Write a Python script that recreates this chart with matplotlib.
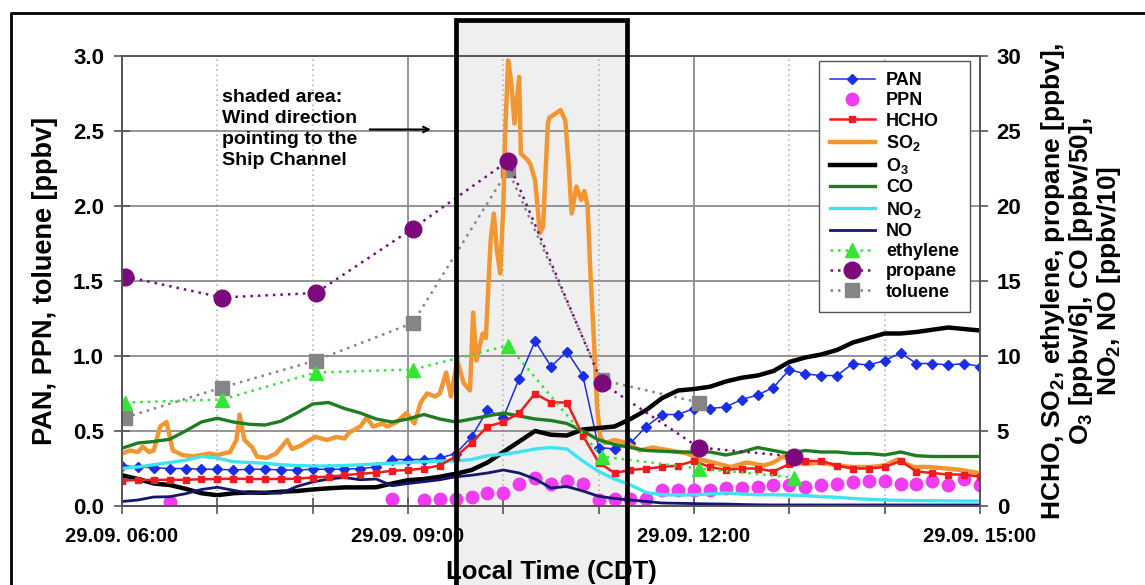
import matplotlib.pyplot as plt
import matplotlib.transforms as mtransforms
import numpy as np
from matplotlib.lines import Line2D
from matplotlib.patches import Rectangle

plt.rcParams['font.family'] = ['Liberation Sans', 'DejaVu Sans']
plt.rcParams['font.weight'] = 'bold'
plt.rcParams['axes.labelweight'] = 'bold'
plt.rcParams['mathtext.default'] = 'regular'


def horas(lista):
    # "HH:MM" -> horas decimales
    return np.array([int(s[:2]) + int(s[3:]) / 60 for s in lista])


# Rejilla de 10 minutos (06:00 - 15:00)
t10 = 6 + np.arange(55) * 10 / 60
nan = np.nan

# Eje izquierdo [ppbv]
pan = [0.27, 0.26, 0.255, 0.25, 0.25, 0.245,
       0.245, 0.24, 0.245, 0.245, 0.24, 0.24,
       0.245, 0.245, 0.245, 0.25, 0.26, 0.31,
       0.31, 0.31, 0.32, 0.35, 0.46, 0.64,
       0.59, 0.85, 1.10, 0.93, 1.03, 0.87,
       0.39, 0.38, 0.42, 0.53, 0.61, 0.61,
       0.65, 0.65, 0.66, 0.71, 0.74, 0.79,
       0.91, 0.88, 0.87, 0.87, 0.95, 0.94,
       0.97, 1.02, 0.95, 0.95, 0.94, 0.95,
       0.93]
ppn = [nan, nan, nan, 0.03, nan, nan,
       nan, nan, nan, nan, nan, nan,
       nan, nan, nan, nan, nan, 0.05,
       nan, 0.04, 0.05, 0.05, 0.06, 0.09,
       0.09, 0.15, 0.19, 0.15, 0.17, 0.15,
       0.04, 0.05, 0.05, 0.05, 0.11, 0.11,
       0.11, 0.11, 0.12, 0.12, 0.13, 0.14,
       0.14, 0.13, 0.14, 0.15, 0.16, 0.17,
       0.17, 0.15, 0.15, 0.17, 0.14, 0.18,
       0.14]
tolueno_t = horas(['06:02', '07:03', '08:02', '09:03', '10:03', '11:02', '12:03'])
tolueno = [0.59, 0.79, 0.97, 1.22, 2.24, 0.84, 0.69]

# Eje derecho (HCHO, SO2, etileno, propano [ppbv]; O3/6, CO/50, NO2/10, NO/10)
hcho = [1.7, 1.72, 1.75, 1.75, 1.75, 1.78,
        1.8, 1.82, 1.8, 1.8, 1.8, 1.82,
        1.9, 1.96, 2.05, 2.15, 2.22, 2.35,
        2.4, 2.5, 2.7, 3.3, 4.2, 5.3,
        5.6, 6.2, 7.5, 6.9, 6.9, 4.7,
        2.9, 2.2, 2.4, 2.5, 2.6, 2.7,
        3.0, 2.6, 2.4, 2.5, 2.5, 2.3,
        2.8, 3.0, 3.0, 2.7, 2.5, 2.5,
        2.6, 3.0, 2.3, 2.2, 2.1, 2.1,
        1.95]
o3 = [2.05, 1.8, 1.5, 1.4, 1.15, 0.85,
      0.72, 0.85, 0.9, 0.88, 0.95, 1.0,
      1.1, 1.18, 1.24, 1.24, 1.25, 1.5,
      1.72, 1.8, 1.95, 2.15, 2.4, 2.9,
      3.6, 4.3, 5.0, 4.75, 4.7, 5.1,
      5.2, 5.3, 5.8, 6.4, 7.2, 7.7,
      7.8, 7.95, 8.3, 8.55, 8.7, 9.0,
      9.6, 9.9, 10.1, 10.4, 10.9, 11.2,
      11.5, 11.5, 11.6, 11.75, 11.9, 11.8,
      11.7]
co = [3.85, 4.2, 4.3, 4.45, 5.0, 5.6,
      5.85, 5.6, 5.45, 5.4, 5.65, 6.2,
      6.8, 6.9, 6.5, 6.2, 5.8, 5.6,
      5.8, 6.1, 5.8, 5.6, 5.8, 6.0,
      6.2, 6.0, 5.8, 5.7, 5.5, 5.0,
      4.4, 4.1, 3.9, 3.7, 3.65, 3.6,
      3.6, 3.6, 3.4, 3.6, 3.9, 3.7,
      3.5, 3.7, 3.6, 3.6, 3.5, 3.5,
      3.4, 3.6, 3.35, 3.3, 3.3, 3.3,
      3.3]
no2 = [2.5, 2.6, 2.75, 2.9, 3.05, 3.3,
       3.2, 2.95, 2.9, 2.85, 2.75, 2.7,
       2.67, 2.67, 2.7, 2.75, 2.8, 2.85,
       2.9, 2.95, 3.0, 3.0, 3.1, 3.35,
       3.45, 3.6, 3.8, 3.9, 3.8, 3.0,
       2.3, 1.8, 1.4, 0.9, 0.75, 0.73,
       0.75, 0.8, 0.87, 0.8, 0.75, 0.75,
       0.73, 0.7, 0.62, 0.58, 0.5, 0.45,
       0.4, 0.38, 0.36, 0.35, 0.34, 0.33,
       0.33]
no = [0.3, 0.4, 0.6, 0.62, 0.82, 1.1,
      1.25, 1.05, 0.85, 0.9, 0.85, 1.3,
      1.6, 1.8, 1.9, 1.75, 1.8, 1.35,
      1.5, 1.62, 1.75, 1.95, 2.05, 2.2,
      2.4, 2.2, 1.8, 1.2, 1.3, 1.0,
      0.65, 0.5, 0.4, 0.3, 0.2, 0.18,
      0.16, 0.14, 0.13, 0.1, 0.08, 0.07,
      0.07, 0.07, 0.07, 0.07, 0.07, 0.07,
      0.07, 0.07, 0.07, 0.07, 0.07, 0.07,
      0.07]

so2_t = horas(['06:00', '06:05', '06:10', '06:13', '06:17', '06:20', '06:24', '06:28',
               '06:32', '06:38', '06:45', '06:50', '06:55', '07:00', '07:08', '07:12',
               '07:14', '07:17', '07:22', '07:25', '07:31', '07:37', '07:44', '07:47',
               '07:52', '07:58', '08:02', '08:09', '08:15', '08:20', '08:23', '08:30',
               '08:34', '08:38', '08:44', '08:47', '08:53', '08:59', '09:04', '09:08',
               '09:12', '09:17', '09:20', '09:24', '09:27', '09:31', '09:35', '09:39',
               '09:41', '09:43', '09:47', '09:49', '09:52', '09:54', '09:56', '09:58',
               '10:00', '10:01', '10:03', '10:05', '10:07', '10:10', '10:11', '10:15',
               '10:17', '10:20', '10:23', '10:25', '10:28', '10:29', '10:32', '10:36',
               '10:39', '10:41', '10:43', '10:46', '10:49', '10:51', '10:53', '10:55',
               '10:57', '10:59', '11:01', '11:04', '11:10', '11:18', '11:26', '11:34',
               '11:45', '11:56', '12:04', '12:12', '12:23', '12:33', '12:44', '12:50',
               '12:56', '13:03', '13:10', '13:19', '13:30', '13:40', '13:51', '14:00',
               '14:08', '14:18', '14:28', '14:39', '14:48', '14:59'])
so2 = [3.5, 3.7, 3.6, 3.95, 3.6, 3.7, 5.3, 5.6,
       3.7, 3.4, 3.3, 3.4, 3.5, 3.4, 3.6, 4.4,
       6.1, 4.4, 3.9, 3.3, 3.2, 3.5, 4.4, 3.8,
       4.0, 4.4, 4.6, 4.4, 4.6, 4.5, 4.9, 5.3,
       5.9, 5.3, 5.5, 5.3, 5.6, 6.2, 5.5, 6.9,
       7.5, 7.3, 7.5, 8.9, 7.3, 9.7, 8.2, 7.7,
       12.9, 9.7, 11.5, 11.2, 17.7, 19.5, 17.0, 15.5,
       20.0, 24.4, 29.7, 28.2, 25.5, 28.6, 23.5, 23.1,
       22.8, 21.7, 18.2, 18.6, 25.5, 25.9, 26.1, 26.4,
       25.7, 22.9, 19.5, 21.3, 20.4, 21.0, 20.0, 15.1,
       11.1, 6.6, 4.6, 4.2, 4.4, 4.2, 3.7, 3.9,
       3.7, 3.5, 3.1, 2.9, 2.6, 2.9, 2.7, 2.9,
       3.3, 2.9, 2.8, 2.9, 2.7, 2.6, 2.6, 2.7,
       3.1, 2.6, 2.6, 2.5, 2.4, 2.2]

hc_t = horas(['06:02', '07:03', '08:02', '09:03', '10:03', '11:02', '12:03', '13:03'])
etileno = [6.9, 7.1, 8.9, 9.1, 10.7, 3.3, 2.5, 1.9]
propano = [15.3, 13.9, 14.2, 18.5, 23.0, 8.2, 3.9, 3.3]

# Zona sombreada (viento desde el Ship Channel)
zona_ini, zona_fin = 9.5, 11.3

etiquetas_x = ['29.09. 06:00', '29.09. 09:00', '29.09. 12:00', '29.09. 15:00']

fig = plt.figure(figsize=(11.45, 5.85), dpi=100)
ax = fig.add_axes([122 / 1145, 79 / 585, 858 / 1145, 450 / 585])
ax2 = ax.twinx()

trans = mtransforms.blended_transform_factory(ax.transData, fig.transFigure)
ax.add_patch(Rectangle((zona_ini, -0.05), zona_fin - zona_ini, 1.05 - 20 / 585, transform=trans,
                       facecolor='#efefef', edgecolor='none', zorder=0.1, clip_on=False))
fig.add_artist(Rectangle((zona_ini, -0.05), zona_fin - zona_ini, 1.05 - 20 / 585, transform=trans,
                         fill=False, edgecolor='black', lw=3.4, zorder=5))
# marco exterior
fig.add_artist(Line2D([11 / 1145, 11 / 1145, 1], [0, 1 - 13 / 585, 1 - 13 / 585],
                      color='black', lw=2))

punteado = (0, (1, 2))

# Series eje izquierdo
h_pan, = ax.plot(t10, pan, color='#1a2ee6', lw=1.1, marker='D', ms=5, label='PAN')
h_ppn, = ax.plot(t10, ppn, color='#f03cf0', ls='none', marker='o', ms=9, label='PPN')
h_tol, = ax.plot(tolueno_t, tolueno, color='#858585', ls=punteado, lw=1.8, marker='s',
                 ms=10, label='toluene')

# Series eje derecho
h_so2, = ax2.plot(so2_t, so2, color='#f29632', lw=3.2, label='SO$_2$')
h_o3, = ax2.plot(t10, o3, color='black', lw=3.2, label='O$_3$')
h_co, = ax2.plot(t10, co, color='#1e7d1e', lw=2.4, label='CO')
h_no2, = ax2.plot(t10, no2, color='#3ee4ee', lw=2.4, label='NO$_2$')
h_no, = ax2.plot(t10, no, color='#16166e', lw=2, label='NO')
h_hcho, = ax2.plot(t10, hcho, color='#ee1c1c', lw=1.8, marker='s', ms=5, label='HCHO')
h_eti, = ax2.plot(hc_t, etileno, color='#33e633', ls=punteado, lw=1.8, marker='^',
                  ms=10, label='ethylene')
h_pro, = ax2.plot(hc_t, propano, color='#7d0a7d', ls=punteado, lw=1.8, marker='o',
                  ms=12, label='propane')

ax.set_xlim(6, 15)
ax.set_ylim(0, 3)
ax2.set_ylim(0, 30)

ax.set_xticks([6, 9, 12, 15])
ax.set_xticklabels(etiquetas_x)
ax.set_xticks(np.arange(6, 16), minor=True)
ax.set_yticks(np.arange(0, 3.01, 0.5))
ax.set_yticklabels(['%.1f' % v for v in np.arange(0, 3.01, 0.5)])
ax2.set_yticks(np.arange(0, 31, 5))

ax.grid(axis='y', color='#8c8c8c', lw=1.3)
ax.grid(axis='x', which='major', color='#8c8c8c', lw=1.3)
ax.grid(axis='x', which='minor', color='#b8b8b8', lw=1.2, ls=(0, (1, 2)))

for a in (ax, ax2):
    for s in a.spines.values():
        s.set_color('#555555')
        s.set_linewidth(1.2)
ax.tick_params(axis='y', direction='inout', length=12, width=1.2, color='#555555',
               labelsize=16, pad=7)
ax.tick_params(axis='x', which='both', direction='inout', length=12, width=1.2,
               color='#555555', labelsize=14.5, pad=9)
ax2.tick_params(axis='y', direction='out', length=6, width=1.2, color='#555555',
                labelsize=16, pad=6)

ax.set_ylabel('PAN, PPN, toluene [ppbv]', fontsize=19.5, labelpad=11)
ax.set_xlabel('Local Time (CDT)', fontsize=18.5, labelpad=10)
ax2.set_ylabel('HCHO, SO$_2$, ethylene, propane [ppbv],\nO$_3$ [ppbv/6], CO [ppbv/50],\n'
               'NO$_2$, NO [ppbv/10]', fontsize=19, labelpad=13, linespacing=1.0)

ax.text(7.05, 2.78, 'shaded area:\nWind direction\npointing to the\nShip Channel',
        fontsize=14, va='top', ha='left', linespacing=1.3)
ax.annotate('', xy=(9.27, 2.51), xytext=(8.57, 2.51),
            arrowprops=dict(arrowstyle='->', lw=1.5, color='black'))

handles = [h_pan, h_ppn, h_hcho, h_so2, h_o3, h_co, h_no2, h_no, h_eti, h_pro, h_tol]
leg = ax2.legend(handles=handles, loc='upper right', bbox_to_anchor=(0.988, 0.988),
                 borderaxespad=0, fontsize=13, numpoints=1, handlelength=2.5,
                 labelspacing=0.18, handletextpad=0.6, borderpad=0.6,
                 fancybox=False, framealpha=1)
leg.get_frame().set_edgecolor('#555555')
leg.get_frame().set_linewidth(1)

fig.savefig('out.png', dpi=100)
